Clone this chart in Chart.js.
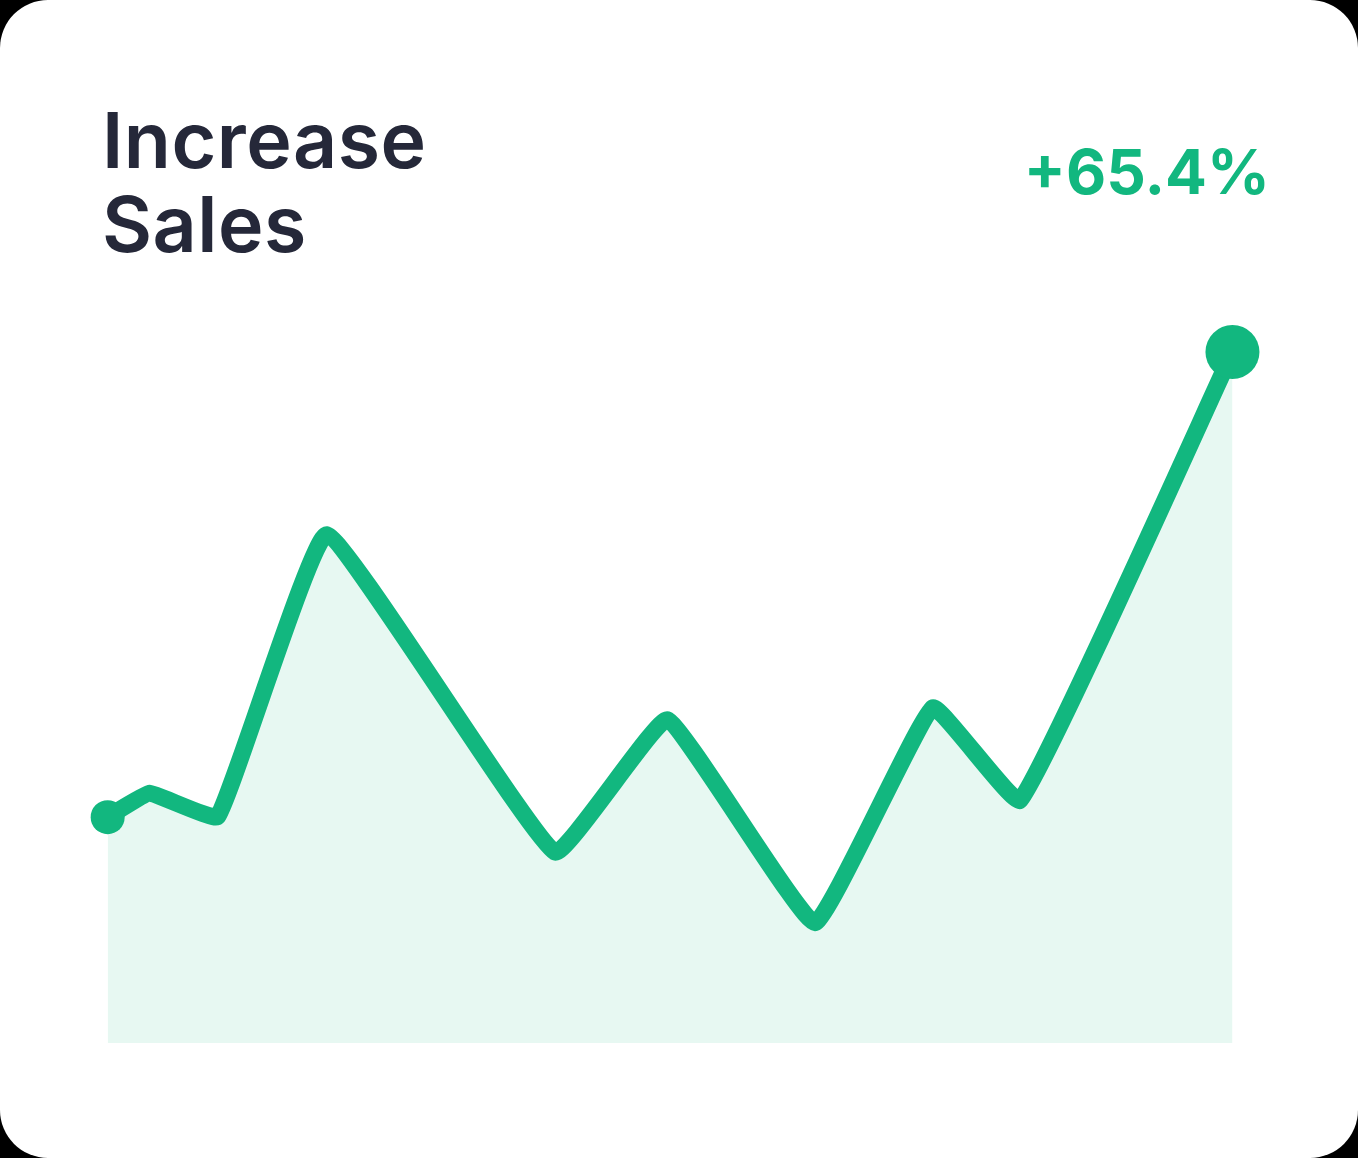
<!DOCTYPE html>
<html>
<head>
<meta charset="utf-8">
<script src="https://cdn.jsdelivr.net/npm/chart.js@4"></script>
<style>
  html, body { margin: 0; padding: 0; background: #000; }
  .card {
    position: relative;
    width: 1358px;
    height: 1158px;
    background: #fff;
    border-radius: 48px;
    overflow: hidden;
    font-family: Inter, "Noto Sans", sans-serif;
  }
  .title {
    position: absolute;
    left: 102px;
    top: 98px;
    font-size: 77px;
    line-height: 84px;
    font-weight: 600;
    color: #252839;
    letter-spacing: 0.5px;
  }
  .change {
    position: absolute;
    right: 88px;
    top: 134px;
    font-size: 62px;
    font-weight: 700;
    color: #12b77f;
    letter-spacing: 0;
  }
  canvas { position: absolute; left: 0; top: 0; }
</style>
</head>
<body>
<div class="card">
  <div class="title">Increase<br>Sales</div>
  <div class="change">+65.4%</div>
  <canvas id="salesChart" width="1358" height="1158"></canvas>
</div>
<script>
// sales trend, x = position in period (0-100), y = sales index
const periods = [0.5, 4.2, 10.2, 19.8, 39.9, 49.8, 62.8, 73.2, 80.9, 99.6];
const sales = [30.4, 33.6, 30.5, 68.4, 25.7, 43.5, 16.2, 45.1, 32.7, 93.0];

const lineColor = "#12b77f";
const points = periods.map((p, i) => ({ x: p, y: sales[i] }));
const radii = sales.map((v, i) => i === 0 ? 17 : (i === sales.length - 1 ? 27 : 0));

const ctx = document.getElementById("salesChart").getContext("2d");
new Chart(ctx, {
  type: "line",
  data: {
    datasets: [{
      label: "Sales",
      data: points,
      borderColor: lineColor,
      backgroundColor: "rgba(18, 183, 127, 0.1)",
      borderWidth: 17,
      borderCapStyle: "round",
      borderJoinStyle: "round",
      tension: 0.1,
      fill: "start",
      pointRadius: radii,
      pointBackgroundColor: lineColor,
      pointBorderWidth: 0,
      pointHoverRadius: radii,
      clip: false
    }]
  },
  options: {
    responsive: false,
    animation: false,
    events: [],
    layout: { padding: { left: 102, right: 121, top: 300, bottom: 115 } },
    plugins: { legend: { display: false }, tooltip: { enabled: false } },
    scales: {
      x: { type: "linear", min: 0, max: 100, display: false },
      y: { min: 0, max: 100, display: false }
    }
  }
});
</script>
</body>
</html>
